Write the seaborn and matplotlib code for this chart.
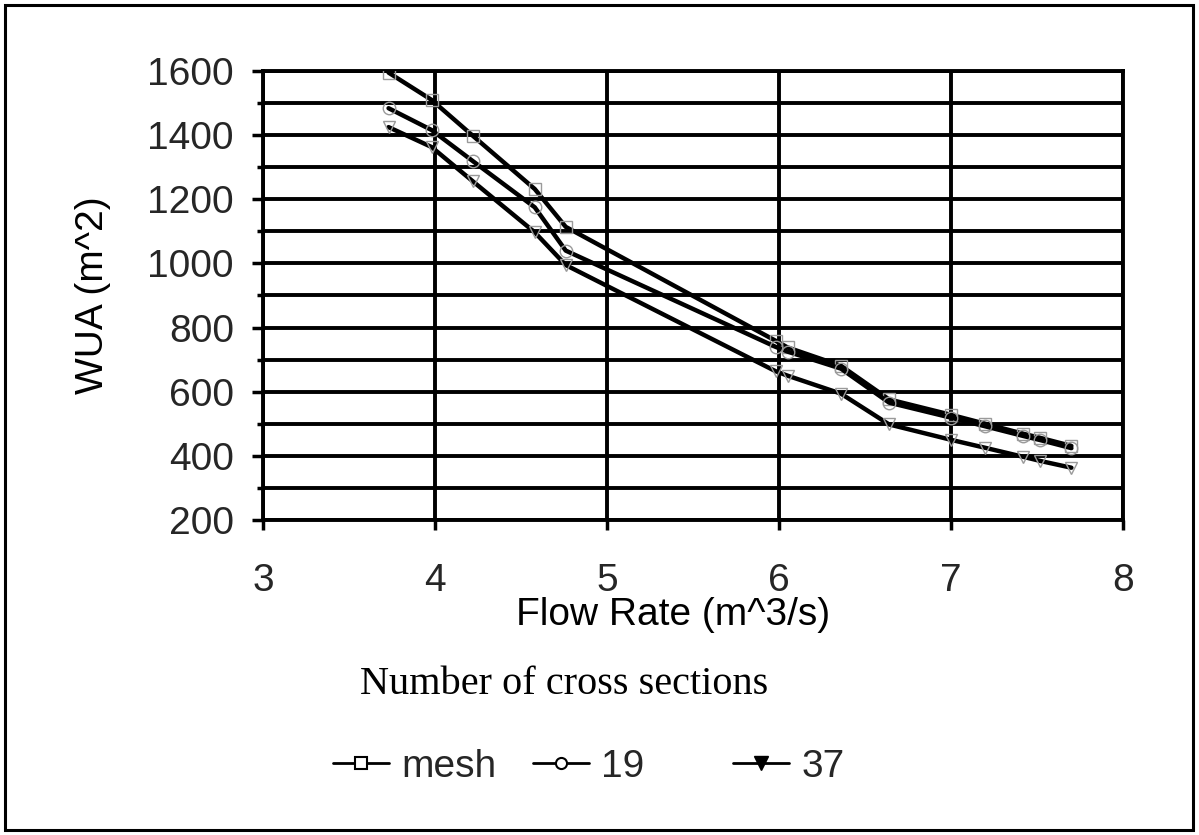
import matplotlib
matplotlib.use("Agg")
import matplotlib.pyplot as plt
import matplotlib.patches as mpatches
from matplotlib.lines import Line2D
from matplotlib.ticker import MultipleLocator
import seaborn as sns
import pandas as pd

# ---- data ----
flow = [3.73, 3.98, 4.22, 4.58, 4.76, 5.98, 6.05, 6.36, 6.64, 7.0, 7.2, 7.42, 7.52, 7.7]
wua_mesh = [1595, 1510, 1398, 1232, 1114, 759, 738, 681, 576, 528, 500, 469, 456, 431]
wua_19 = [1484, 1416, 1319, 1175, 1040, 740, 725, 672, 566, 519, 492, 462, 449, 424]
wua_37 = [1425, 1363, 1256, 1097, 995, 664, 650, 594, 498, 450, 425, 397, 384, 363]
series_names = ["mesh", "19", "37"]
x_ticks = [3, 4, 5, 6, 7, 8]
y_ticks = [200, 400, 600, 800, 1000, 1200, 1400, 1600]

df = pd.concat([
    pd.DataFrame({"flow": flow, "wua": vals, "series": name})
    for name, vals in zip(series_names, [wua_mesh, wua_19, wua_37])
], ignore_index=True)

sns.set_theme(style="white")
plt.rcParams["font.family"] = ["Liberation Sans", "DejaVu Sans"]

W, H = 1199, 835
fig = plt.figure(figsize=(W / 100, H / 100), dpi=100)
fig.patch.set_facecolor("white")
ax = fig.add_axes([263 / W, 1 - 520 / H, 860 / W, 449 / H])

markers = {"mesh": "s", "19": "o", "37": "v"}
sns.lineplot(data=df, x="flow", y="wua", hue="series", style="series",
             hue_order=series_names, style_order=series_names,
             palette=["black"] * 3, markers=markers, dashes=False,
             linewidth=3.2, markersize=9, markerfacecolor="none",
             markeredgecolor="#9a9a9a", markeredgewidth=1.0,
             legend=False, ax=ax, zorder=3)

ax.set_xlim(3, 8)
ax.set_ylim(200, 1600)
ax.set_xticks(x_ticks)
ax.set_yticks(y_ticks)
ax.yaxis.set_minor_locator(MultipleLocator(100))
ax.set_xticklabels([str(v) for v in x_ticks])
ax.set_yticklabels([str(v) for v in y_ticks])

ax.grid(True, which="major", axis="both", color="black", linewidth=2.8)
ax.grid(True, which="minor", axis="y", color="black", linewidth=2.8)
ax.set_axisbelow(True)
for side in ["left", "bottom", "top", "right"]:
    ax.spines[side].set_visible(True)
    ax.spines[side].set_color("black")
    ax.spines[side].set_linewidth(2.8)

ax.tick_params(axis="y", which="major", direction="out", length=8, width=2.5,
               color="black", labelsize=28, pad=13, left=True)
ax.tick_params(axis="y", which="minor", direction="out", length=4.5, width=2.5,
               color="black", left=True)
ax.tick_params(axis="x", which="major", direction="out", length=7, width=2.5,
               color="black", labelsize=28, pad=24, bottom=True)

ax.set_xlabel("Flow Rate (m^3/s)", fontsize=28, color="black")
ax.xaxis.set_label_coords((673 - 263) / 860, -(615 - 520) / 449)
ax.xaxis.label.set_va("center")
ax.set_ylabel("WUA (m^2)", fontsize=28, color="black", va="center", ha="center")
ax.yaxis.set_label_coords((93 - 263) / 860, 0.5)

# legend title (serif text)
fig.text(564 / W, 1 - 684 / H, "Number of cross sections",
         family=["Liberation Serif", "DejaVu Serif"], fontsize=29,
         ha="center", va="center", color="black")

# legend entries, laid out as in the reference
leg_handles = [
    Line2D([], [], color="black", lw=2, marker="s", ms=9, mfc="white", mec="black", mew=1.5),
    Line2D([], [], color="black", lw=2, marker="o", ms=8, mfc="white", mec="black", mew=1.5),
    Line2D([], [], color="black", lw=2, marker="v", ms=10, mfc="black", mec="black", mew=1.0),
]
leg_x = [333, 533, 733]
for h, lab, lx in zip(leg_handles, series_names, leg_x):
    fig.legend(handles=[h], labels=[lab], loc="center left",
               bbox_to_anchor=(lx / W, 1 - 767 / H), frameon=False,
               borderpad=0, borderaxespad=0, handlelength=1.45,
               handletextpad=0.3, fontsize=28)

# outer chart border
fig.patches.append(mpatches.Rectangle((5 / W, 5 / H), 1188 / W, 825 / H,
                                      transform=fig.transFigure, fill=False,
                                      edgecolor="black", linewidth=2.2))

fig.savefig("out.png", dpi=100, facecolor="white")
